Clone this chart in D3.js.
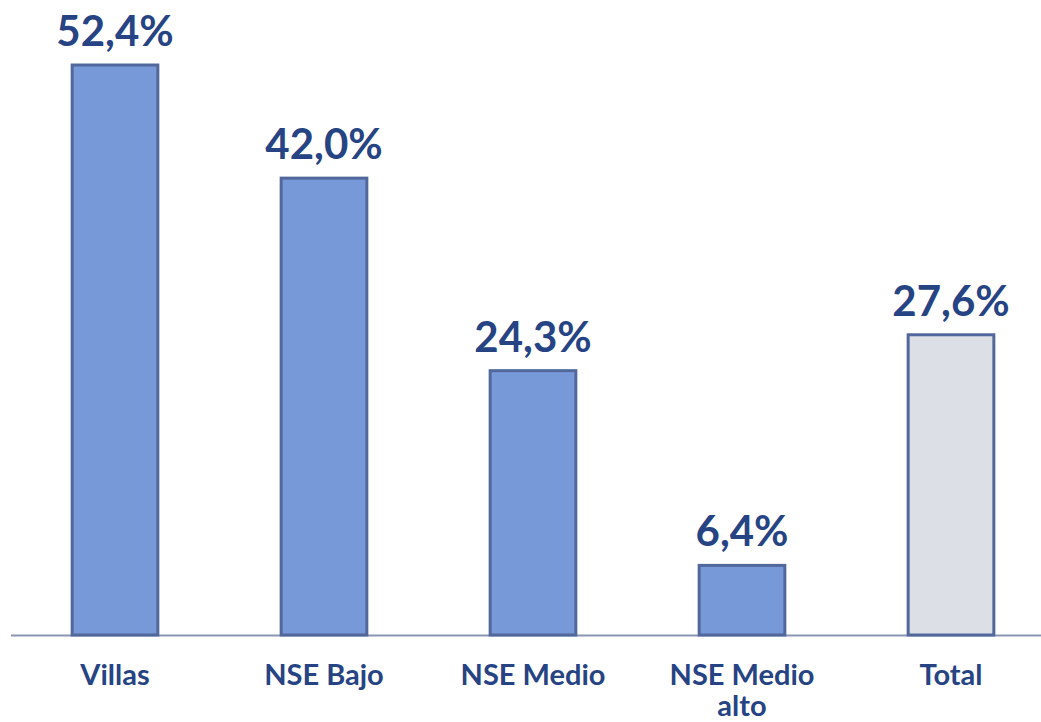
<!DOCTYPE html>
<html>
<head>
<meta charset="utf-8">
<script src="https://cdn.jsdelivr.net/npm/d3@7"></script>
<style>
html,body{margin:0;padding:0;background:#fff;}
svg{display:block;}
text{font-family:"Century Gothic","Lato","Open Sans",sans-serif;font-weight:700;fill:#264383;}
</style>
</head>
<body>
<svg id="chart" width="1041" height="722"></svg>
<script>
const categories = ["Villas", "NSE Bajo", "NSE Medio", "NSE Medio alto", "Total"];
const categoryLines = [["Villas"], ["NSE Bajo"], ["NSE Medio"], ["NSE Medio", "alto"], ["Total"]];
const values = [52.4, 42.0, 24.3, 6.4, 27.6];
const valueLabels = ["52,4%", "42,0%", "24,3%", "6,4%", "27,6%"];
const isTotal = [false, false, false, false, true];

const svg = d3.select("#chart");
const baseY = 635;
const x = d3.scaleBand().domain(categories).range([10.5, 1055.5]).paddingInner(0.59).paddingOuter(0.295);
const y = d3.scaleLinear().domain([0, 52.4]).range([baseY, 65]);

// axis line
svg.append("line").attr("x1", 11).attr("x2", 1041).attr("y1", baseY + 0.5).attr("y2", baseY + 0.5)
  .attr("stroke", "#8c96b3").attr("stroke-width", 2);

svg.selectAll("rect.bar").data(categories).join("rect")
  .attr("class", "bar")
  .attr("x", d => x(d))
  .attr("width", x.bandwidth())
  .attr("y", (d, i) => y(values[i]))
  .attr("height", (d, i) => baseY - y(values[i]))
  .attr("fill", (d, i) => isTotal[i] ? "#dcdfe5" : "#7799d8")
  .attr("stroke", "#52689c")
  .attr("stroke-width", 3);

svg.selectAll("text.val").data(categories).join("text")
  .attr("class", "val")
  .attr("x", d => x(d) + x.bandwidth() / 2)
  .attr("y", (d, i) => y(values[i]) - 19)
  .attr("text-anchor", "middle")
  .style("font-size", "42px")
  .text((d, i) => valueLabels[i]);

const cat = svg.selectAll("text.cat").data(categories).join("text")
  .attr("class", "cat")
  .attr("x", d => x(d) + x.bandwidth() / 2)
  .attr("y", 685)
  .attr("text-anchor", "middle")
  .style("font-size", "29px");
cat.each(function(d, i) {
  const t = d3.select(this);
  categoryLines[i].forEach((ln, j) => {
    t.append("tspan").attr("x", x(d) + x.bandwidth() / 2).attr("dy", j === 0 ? 0 : 31).text(ln);
  });
});
</script>
</body>
</html>
